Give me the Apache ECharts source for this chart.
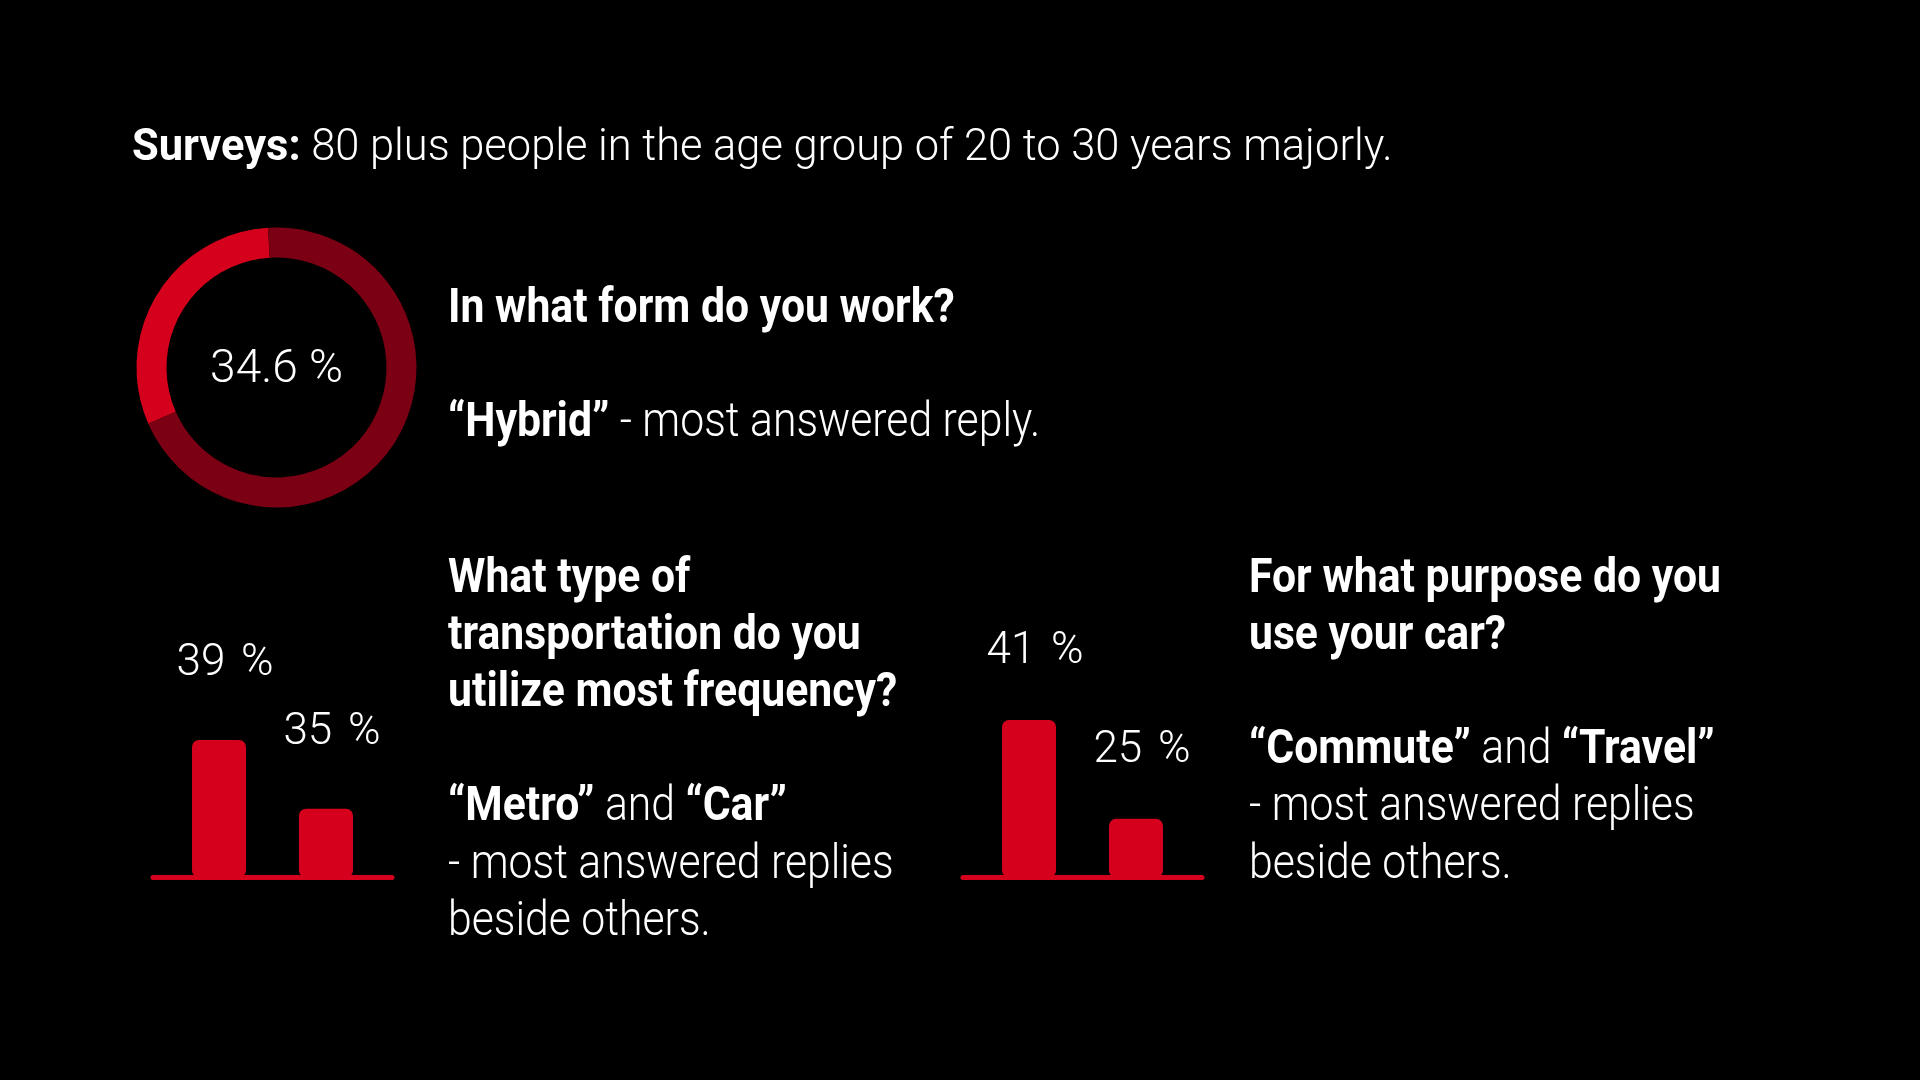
<!DOCTYPE html>
<html>
<head>
<meta charset="utf-8">
<style>
  html, body { margin: 0; padding: 0; background: #000; }
  #chart { width: 1920px; height: 1080px; }
</style>
<script src="https://cdn.jsdelivr.net/npm/echarts@6/dist/echarts.min.js"></script>
</head>
<body>
<div id="chart"></div>
<script>
// ---------- data ----------
const titleBold = 'Surveys:';
const titleRest = ' 80 plus people in the age group of 20 to 30 years majorly.';

const workNames = ['Hybrid', 'Other'];
const workShare = [30.6, 69.4];        // arc as drawn
const hybridPercent = 34.6;            // value printed in the donut

const transportCategories = ['Metro', 'Car'];
const transportValues = [39, 35];

const purposeCategories = ['Commute', 'Travel'];
const purposeValues = [41, 25];

const q1 = ['In what form do you work?'];
const q2 = ['What type of', 'transportation do you', 'utilize most frequency?'];
const q3 = ['For what purpose do you', 'use your car?'];

// ---------- styles ----------
const RED = '#d5001c';
const DARK = '#7b0013';
const GREY = '#9e9e9e';
const FONT = 'Roboto, "Noto Sans", sans-serif';
const FS = 48;
const SX = 0.89;
const LH = 57.2;
const DONUT_CENTER = [276.5, 367.5];

const chart = echarts.init(document.getElementById('chart'), null, { renderer: 'canvas' });

const graphics = [];
function addLine(x, baseline, text, rich, fs, sx, k) {
  graphics.push({
    type: 'text',
    x: x,
    y: baseline - k * fs,
    scaleX: sx,
    silent: true,
    style: {
      text: text,
      rich: rich,
      fill: '#fff',
      font: '700 ' + fs + 'px ' + FONT,
      align: 'left',
      verticalAlign: 'middle'
    }
  });
}
const richStd = {
  b: { fontFamily: FONT, fontWeight: 700, fontSize: FS, color: '#fff' },
  r: { fontFamily: FONT, fontWeight: 300, fontSize: FS, color: GREY }
};
const richTitle = {
  b: { fontFamily: FONT, fontWeight: 700, fontSize: 45, color: '#fff' },
  r: { fontFamily: FONT, fontWeight: 300, fontSize: 45, color: '#fff' }
};
const K = 0.26;

// title
addLine(132, 159, '{b|' + titleBold + '}{r|' + titleRest + '}', richTitle, 45, 0.965, 0.23);

// donut centre value
graphics.push({
  type: 'text',
  x: DONUT_CENTER[0],
  y: DONUT_CENTER[1] + 3,
  silent: true,
  style: {
    text: hybridPercent + ' %',
    fill: '#fff',
    font: '300 46px ' + FONT,
    align: 'center',
    verticalAlign: 'middle'
  }
});

// block 1
q1.forEach((t, i) => addLine(448, 322 + i * LH, '{b|' + t + '}', richStd, FS, SX, K));
addLine(448, 322 + 2 * LH, '{b|\u201C' + workNames[0] + '\u201D}{r| - most answered reply.}', richStd, FS, SX, K);

// block 2
q2.forEach((t, i) => addLine(448, 592 + i * LH, '{b|' + t + '}', richStd, FS, SX, K));
addLine(448, 592 + 4 * LH, '{b|\u201C' + transportCategories[0] + '\u201D}{r| and }{b|\u201C' + transportCategories[1] + '\u201D}', richStd, FS, SX, K);
addLine(448, 592 + 5 * LH, '{r|- most answered replies}', richStd, FS, SX, K);
addLine(448, 592 + 6 * LH, '{r|beside others.}', richStd, FS, SX, K);

// block 3
q3.forEach((t, i) => addLine(1249, 592 + i * LH, '{b|' + t + '}', richStd, FS, SX, K));
addLine(1249, 592 + 3 * LH, '{b|\u201C' + purposeCategories[0] + '\u201D}{r| and }{b|\u201C' + purposeCategories[1] + '\u201D}', richStd, FS, SX, K);
addLine(1249, 592 + 4 * LH, '{r|- most answered replies}', richStd, FS, SX, K);
addLine(1249, 592 + 5 * LH, '{r|beside others.}', richStd, FS, SX, K);

function hiddenAxis(extra) {
  return Object.assign({
    show: true,
    axisLabel: { show: false },
    axisTick: { show: false },
    splitLine: { show: false },
    axisLine: { show: false }
  }, extra);
}

const labelTok = { fontFamily: FONT, fontWeight: 300, fontSize: 44, color: '#fff', lineHeight: 44 };
const barLabel = (dist) => ({
  show: true,
  position: 'top',
  distance: dist,
  offset: [6, 0],
  color: '#fff',
  fontFamily: FONT,
  fontWeight: 300,
  fontSize: 44,
  lineHeight: 44,
  formatter: p => '{n|' + p.value[1] + ' }{p|%}',
  rich: {
    n: labelTok,
    p: Object.assign({ padding: [0, 0, 0, 5] }, labelTok)
  }
});

const option = {
  backgroundColor: '#000',
  animation: false,
  graphic: graphics,
  grid: [
    { left: 153, width: 239, top: 705.5, height: 172 },
    { left: 963, width: 239, top: 695.3, height: 182.2 }
  ],
  xAxis: [
    hiddenAxis({ type: 'value', gridIndex: 0, min: -0.617, max: 1.617,
      axisLine: { show: true, onZero: false, lineStyle: { color: RED, width: 5 } } }),
    hiddenAxis({ type: 'value', gridIndex: 1, min: -0.617, max: 1.617,
      axisLine: { show: true, onZero: false, lineStyle: { color: RED, width: 5 } } })
  ],
  yAxis: [
    hiddenAxis({ type: 'value', gridIndex: 0, min: 31, max: 41, startValue: 31 }),
    hiddenAxis({ type: 'value', gridIndex: 1, min: 15.5, max: 45, startValue: 15.5 })
  ],
  series: [
    {
      type: 'pie',
      center: DONUT_CENTER,
      radius: [110, 140],
      startAngle: 93.5,
      clockwise: false,
      silent: true,
      label: { show: false },
      labelLine: { show: false },
      emphasis: { disabled: true },
      itemStyle: { borderWidth: 0 },
      data: [
        { name: workNames[0], value: workShare[0], itemStyle: { color: RED } },
        { name: workNames[1], value: workShare[1], itemStyle: { color: DARK } }
      ]
    },
    {
      type: 'bar',
      xAxisIndex: 0, yAxisIndex: 0,
      barWidth: 54,
      silent: true,
      itemStyle: { color: RED, borderRadius: 7 },
      label: barLabel(54),
      data: transportValues.map((v, i) => [i, v])
    },
    {
      type: 'bar',
      xAxisIndex: 1, yAxisIndex: 1,
      barWidth: 54,
      silent: true,
      itemStyle: { color: RED, borderRadius: 7 },
      label: barLabel(46),
      data: purposeValues.map((v, i) => [i, v])
    }
  ]
};
chart.setOption(option);
</script>
</body>
</html>
